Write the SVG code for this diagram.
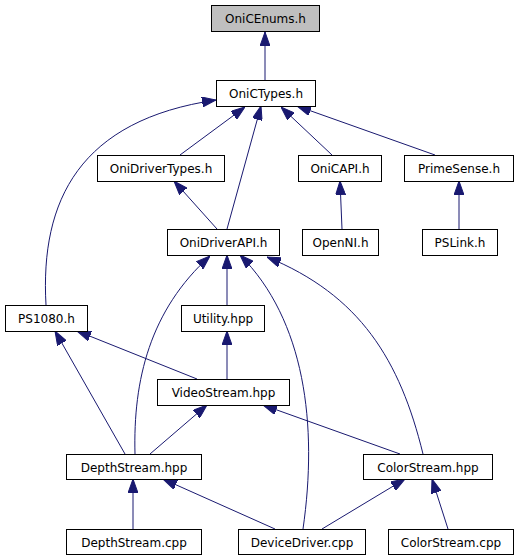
<svg xmlns="http://www.w3.org/2000/svg" width="531" height="560" viewBox="0 0 531 560">
<style>
.n rect{fill:#ffffff;stroke:#000000;stroke-width:1}
.n text{font-family:"DejaVu Sans","Liberation Sans",sans-serif;font-size:12px;fill:#000000;text-anchor:middle}
.e path{fill:none;stroke:#191970;stroke-width:1;marker-end:url(#a)}
</style>
<defs>
<marker id="a" markerUnits="userSpaceOnUse" markerWidth="14" markerHeight="10" viewBox="0 0 14 10" refX="14" refY="5" orient="auto">
<path d="M0,0 L14,5 L0,10 z" fill="#191970" stroke="#191970" stroke-width="1"/>
</marker>
</defs>
<rect width="531" height="560" fill="#ffffff"/>
<g class="e">
<path d="M265,80 L265,32"/>
<path d="M180,155 L245,107"/>
<path d="M227,229 L261,106"/>
<path d="M332,155 L281,107"/>
<path d="M435,155 L297,106"/>
<path d="M46,305 C40,200 80,120 216,100"/>
<path d="M342,229 L340,181"/>
<path d="M459,229 L459,181"/>
<path d="M217,229 L174,181"/>
<path d="M227,305 L227,255"/>
<path d="M135,454 C133,380 150,310 210,256"/>
<path d="M303,529 C318,425 305,320 240,255"/>
<path d="M423,454 C400,360 360,295 267,257"/>
<path d="M227,379 L227,331"/>
<path d="M197,379 L77,331"/>
<path d="M125,454 L55,331"/>
<path d="M150,454 L207,405"/>
<path d="M400,454 L263,405"/>
<path d="M133,529 L133,479"/>
<path d="M275,529 L163,479"/>
<path d="M322,529 L405,479"/>
<path d="M448,529 L432,479"/>
</g>
<g id="OniCEnums" class="n"><rect x="211.5" y="5.5" width="108" height="26" style="fill:#bfbfbf"/><text x="265.5" y="23">OniCEnums.h</text></g>
<g id="OniCTypes" class="n"><rect x="216.5" y="80.5" width="99" height="26"/><text x="266" y="98">OniCTypes.h</text></g>
<g id="OniDriverTypes" class="n"><rect x="97.5" y="155.5" width="127" height="26"/><text x="161" y="173">OniDriverTypes.h</text></g>
<g id="OniCAPI" class="n"><rect x="298.5" y="155.5" width="83" height="26"/><text x="340" y="173">OniCAPI.h</text></g>
<g id="PrimeSense" class="n"><rect x="404.5" y="155.5" width="109" height="26"/><text x="459" y="173">PrimeSense.h</text></g>
<g id="OniDriverAPI" class="n"><rect x="167.5" y="229.5" width="112" height="26"/><text x="223.5" y="247">OniDriverAPI.h</text></g>
<g id="OpenNI" class="n"><rect x="302.5" y="229.5" width="76" height="26"/><text x="340.5" y="247">OpenNI.h</text></g>
<g id="PSLink" class="n"><rect x="422.5" y="229.5" width="75" height="26"/><text x="460" y="247">PSLink.h</text></g>
<g id="PS1080" class="n"><rect x="5.5" y="305.5" width="82" height="26"/><text x="46.5" y="323">PS1080.h</text></g>
<g id="Utility" class="n"><rect x="181.5" y="305.5" width="83" height="26"/><text x="223" y="323">Utility.hpp</text></g>
<g id="VideoStream" class="n"><rect x="157.5" y="379.5" width="132" height="26"/><text x="223.5" y="397">VideoStream.hpp</text></g>
<g id="DepthStreamHpp" class="n"><rect x="66.5" y="454.5" width="135" height="25"/><text x="134" y="471.5">DepthStream.hpp</text></g>
<g id="ColorStreamHpp" class="n"><rect x="363.5" y="454.5" width="129" height="25"/><text x="428" y="471.5">ColorStream.hpp</text></g>
<g id="DepthStreamCpp" class="n"><rect x="66.5" y="529.5" width="135" height="25"/><text x="134" y="546.5">DepthStream.cpp</text></g>
<g id="DeviceDriver" class="n"><rect x="238.5" y="529.5" width="127" height="25"/><text x="302" y="546.5">DeviceDriver.cpp</text></g>
<g id="ColorStreamCpp" class="n"><rect x="388.5" y="529.5" width="125" height="25"/><text x="451" y="546.5">ColorStream.cpp</text></g>
</svg>
